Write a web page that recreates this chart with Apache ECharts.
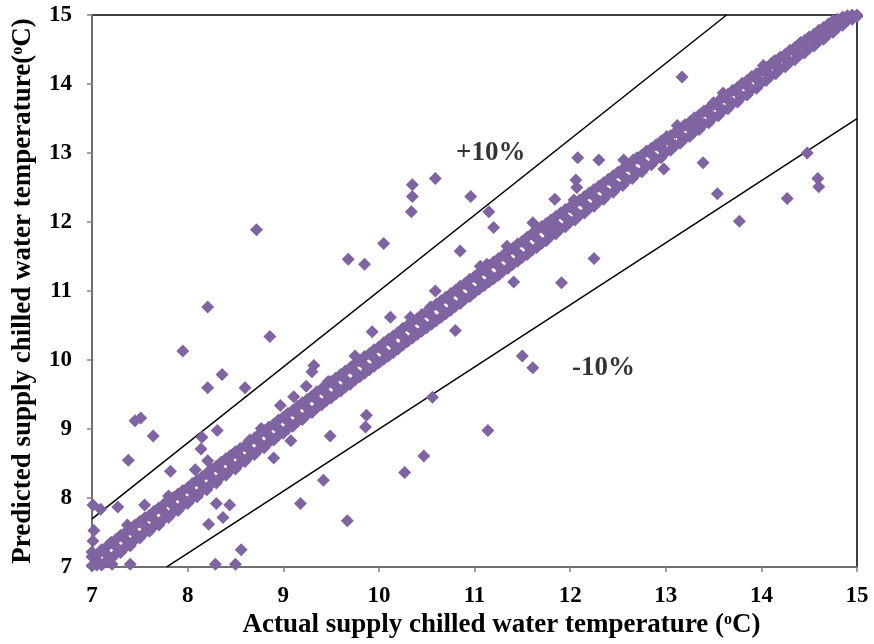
<!DOCTYPE html>
<html>
<head>
<meta charset="utf-8">
<script src="https://cdn.jsdelivr.net/npm/echarts@6/dist/echarts.min.js"></script>
<style>
html,body{margin:0;padding:0;background:#fff;}
#chart{width:874px;height:644px;}
</style>
</head>
<body>
<div id="chart"></div>
<script>
// Axis ticks
const xTicks = [7, 8, 9, 10, 11, 12, 13, 14, 15];
const yTicks = [7, 8, 9, 10, 11, 12, 13, 14, 15];

// Dense band of points close to the 1:1 line
const bandX = [7.0,7.1,7.2,7.3,7.4,7.5,7.6,7.7,7.8,7.9,
  8.0,8.1,8.2,8.3,8.4,8.5,8.6,8.7,8.8,8.9,
  9.0,9.1,9.2,9.3,9.4,9.5,9.6,9.7,9.8,9.9,
  10.0,10.1,10.2,10.3,10.4,10.5,10.6,10.7,10.8,10.9,
  11.0,11.1,11.2,11.3,11.4,11.5,11.6,11.7,11.8,11.9,
  12.0,12.1,12.2,12.3,12.4,12.5,12.6,12.7,12.8,12.9,
  13.0,13.1,13.2,13.3,13.4,13.5,13.6,13.7,13.8,13.9,
  14.0,14.1,14.2,14.3,14.4,14.5,14.6,14.7,14.8,14.9,15.0];
const bandLow = [7.02,7.03,7.12,7.21,7.31,7.42,7.52,7.61,7.72,7.82,
  7.92,8.02,8.12,8.22,8.33,8.42,8.53,8.63,8.73,8.84,
  8.94,9.04,9.14,9.24,9.35,9.45,9.55,9.65,9.76,9.86,
  9.96,10.06,10.16,10.27,10.37,10.47,10.57,10.67,10.78,10.88,
  10.98,11.08,11.18,11.29,11.39,11.49,11.59,11.69,11.80,11.90,
  12.00,12.10,12.20,12.30,12.41,12.51,12.61,12.71,12.81,12.91,
  13.01,13.11,13.21,13.31,13.42,13.52,13.62,13.72,13.82,13.92,
  14.02,14.12,14.22,14.32,14.42,14.52,14.62,14.72,14.82,14.92,14.98];
const bandHigh = [7.15,7.25,7.36,7.46,7.55,7.66,7.75,7.86,7.96,8.06,
  8.15,8.26,8.36,8.46,8.57,8.67,8.76,8.87,8.98,9.07,
  9.17,9.27,9.38,9.48,9.58,9.69,9.79,9.89,9.99,10.09,
  10.19,10.30,10.40,10.50,10.60,10.70,10.81,10.91,11.01,11.11,
  11.21,11.31,11.42,11.52,11.62,11.72,11.83,11.93,12.03,12.13,
  12.22,12.32,12.42,12.52,12.62,12.72,12.82,12.93,13.03,13.12,
  13.20,13.30,13.41,13.51,13.61,13.71,13.81,13.91,14.01,14.11,
  14.19,14.29,14.39,14.49,14.58,14.68,14.78,14.87,14.94,14.99,15.00];
// strands offset half a step in actual value
const bandMidX = [7.05,7.15,7.25,7.35,7.45,7.55,7.65,7.75,7.85,7.95,
  8.05,8.15,8.25,8.35,8.45,8.55,8.65,8.75,8.85,8.95,
  9.05,9.15,9.25,9.35,9.45,9.55,9.65,9.75,9.85,9.95,
  10.05,10.15,10.25,10.35,10.45,10.55,10.65,10.75,10.85,10.95,
  11.05,11.15,11.25,11.35,11.45,11.55,11.65,11.75,11.85,11.95,
  12.05,12.15,12.25,12.35,12.45,12.55,12.65,12.75,12.85,12.95,
  13.05,13.15,13.25,13.35,13.45,13.55,13.65,13.75,13.85,13.95,
  14.05,14.15,14.25,14.35,14.45,14.55,14.65,14.75,14.85,14.95];
const bandMid = [7.10,7.19,7.30,7.40,7.49,7.60,7.69,7.80,7.89,7.99,
  8.09,8.19,8.30,8.40,8.50,8.60,8.70,8.81,8.91,9.01,
  9.11,9.21,9.31,9.42,9.52,9.62,9.72,9.83,9.93,10.03,
  10.13,10.23,10.34,10.44,10.54,10.64,10.75,10.85,10.95,11.05,
  11.15,11.25,11.36,11.46,11.56,11.66,11.76,11.87,11.97,12.07,
  12.16,12.27,12.37,12.47,12.57,12.67,12.77,12.88,12.98,13.07,
  13.16,13.26,13.36,13.46,13.57,13.67,13.77,13.87,13.97,14.07,
  14.16,14.26,14.36,14.46,14.55,14.65,14.75,14.84,14.92,14.98];
const bandLow2 = [7.03,7.09,7.19,7.29,7.40,7.50,7.60,7.70,7.80,7.90,
  8.00,8.11,8.21,8.31,8.41,8.51,8.61,8.71,8.81,8.91,
  9.01,9.11,9.21,9.31,9.41,9.51,9.61,9.71,9.81,9.91,
  10.01,10.11,10.22,10.32,10.42,10.52,10.62,10.72,10.82,10.92,
  11.03,11.13,11.23,11.33,11.43,11.53,11.63,11.73,11.83,11.93,
  12.03,12.13,12.23,12.33,12.43,12.53,12.63,12.73,12.83,12.93,
  13.04,13.14,13.24,13.34,13.44,13.54,13.64,13.74,13.84,13.94,
  14.05,14.15,14.25,14.35,14.45,14.55,14.65,14.75,14.85,14.94];
const bandHigh2 = [7.17,7.29,7.40,7.50,7.61,7.71,7.81,7.91,8.01,8.11,
  8.21,8.31,8.42,8.52,8.62,8.72,8.83,8.93,9.03,9.13,
  9.23,9.33,9.43,9.54,9.64,9.74,9.84,9.95,10.05,10.15,
  10.25,10.35,10.46,10.56,10.66,10.76,10.86,10.96,11.07,11.17,
  11.27,11.37,11.47,11.57,11.68,11.78,11.88,11.98,12.08,12.18,
  12.27,12.37,12.47,12.57,12.67,12.77,12.87,12.97,13.07,13.17,
  13.25,13.35,13.45,13.55,13.65,13.75,13.85,13.95,14.05,14.15,
  14.24,14.34,14.43,14.53,14.63,14.72,14.82,14.90,14.97,15.00];

// Points sitting just above the band
const nearBand = [[7.02,7.53],[7.01,7.38],[7.00,7.22],[7.37,7.61],[7.55,7.90],[7.80,8.03],
  [8.08,8.41],[8.43,8.58],[8.65,8.84],[8.77,9.01],[8.97,9.34],[9.11,9.47],[9.24,9.62],
  [9.47,9.69],[9.32,9.92],[9.30,9.83],[9.75,10.06],[9.93,10.41],[10.12,10.62],[10.33,10.62],
  [10.54,10.77],[10.59,11.00],[11.06,11.36],[11.13,11.39],[11.34,11.65],[11.83,11.92],
  [12.04,12.32],[12.07,12.50],[12.06,12.61],[12.66,12.90],[12.95,13.09],[13.01,13.24],
  [13.12,13.40],[13.29,13.43],[13.50,13.73],[13.60,13.87],[13.87,13.95],[14.02,14.27],
  [14.13,14.33],[14.41,14.60],[14.75,14.92]];

// Over-predicted outliers
const aboveBand = [[7.01,7.90],[7.09,7.84],[7.27,7.87],[7.38,8.55],[7.45,9.12],[7.51,9.16],
  [7.64,8.90],[7.82,8.39],[7.95,10.13],[8.15,8.88],[8.14,8.71],[8.21,8.54],[8.21,10.77],
  [8.21,9.60],[8.31,8.98],[8.36,9.79],[8.60,9.60],[8.72,11.89],[8.86,10.34],[9.68,11.46],
  [9.85,11.39],[10.05,11.69],[10.34,12.15],[10.35,12.37],[10.35,12.54],[10.59,12.63],
  [10.96,12.37],[11.15,12.15],[10.85,11.58],[11.20,11.92],[11.61,11.99],[11.84,12.33],
  [12.08,12.93],[12.30,12.90],[12.56,12.90],[13.17,14.10]];

// Under-predicted outliers
const belowBand = [[7.21,7.04],[7.40,7.04],[8.29,7.04],[8.50,7.04],[8.56,7.25],[8.22,7.62],
  [8.30,7.92],[8.44,7.90],[8.37,7.72],[8.90,8.58],[9.08,8.83],[9.49,8.90],[9.42,8.26],
  [9.18,7.92],[9.67,7.67],[9.86,9.03],[9.87,9.20],[10.27,8.37],[10.47,8.61],[11.14,8.98],
  [10.56,9.46],[10.80,10.43],[11.50,10.06],[11.61,9.89],[11.41,11.13],[11.91,11.12],
  [12.25,11.47],[12.98,12.77],[13.39,12.86],[13.54,12.41],[13.77,12.01],[14.27,12.34],
  [14.48,13.00],[14.59,12.63],[14.60,12.51]];

// +/-10% boundary lines
const plusTenLine = [[7, 7.7], [13.636, 15]];
const minusTenLine = [[7.778, 7], [15, 13.5]];
const annotations = [{ value: [11.17, 13.0], text: '+10%' }, { value: [12.35, 9.88], text: '-10%' }];

const purple = '#8064a2';
const font = '"Liberation Serif", "Times New Roman", serif';

const points = [];
for (let i = 0; i < bandX.length; i++) {
  points.push([bandX[i], bandLow[i]]);
  points.push([bandX[i], bandHigh[i]]);
}
for (let i = 0; i < bandMidX.length; i++) {
  points.push([bandMidX[i], bandMid[i]]);
  points.push([bandMidX[i], bandLow2[i]]);
  points.push([bandMidX[i], bandHigh2[i]]);
}
const allPoints = points.concat(nearBand, aboveBand, belowBand);

const chart = echarts.init(document.getElementById('chart'), null, { renderer: 'canvas' });
const axisCommon = {
  type: 'value', min: 7, max: 15, interval: 1,
  axisLine: { show: true, lineStyle: { color: '#808080', width: 1.5 } },
  axisTick: { show: true, inside: false, length: 5, lineStyle: { color: '#808080', width: 1.5 } },
  splitLine: { show: false },
  nameLocation: 'middle'
};
const richName = {
  a: { fontFamily: font, fontWeight: 'bold', fontSize: 27, color: '#000' },
  s: { fontFamily: font, fontWeight: 'bold', fontSize: 16, color: '#000', verticalAlign: 'top', padding: [0, 0, 10, 0] }
};
chart.setOption({
  animation: false,
  backgroundColor: '#fff',
  grid: { left: 92, right: 17, top: 15, bottom: 75, show: true, borderColor: '#000', borderWidth: 1.5 },
  xAxis: Object.assign({}, axisCommon, {
    name: '{a|Actual supply chilled water temperature (}{s|o}{a|C)}',
    nameGap: 38,
    nameTextStyle: { rich: richName, padding: [0, 0, 0, 54] },
    axisLabel: { margin: 17, fontFamily: font, fontWeight: 'bold', fontSize: 23, color: '#000',
      formatter: v => (xTicks.indexOf(v) >= 0 ? String(v) : '') }
  }),
  yAxis: Object.assign({}, axisCommon, {
    name: '{a|Predicted supply chilled water temperature(}{s|o}{a|C)}',
    nameGap: 55,
    nameTextStyle: { rich: richName },
    axisLabel: { margin: 20, fontFamily: font, fontWeight: 'bold', fontSize: 23, color: '#000',
      formatter: v => (yTicks.indexOf(v) >= 0 ? String(v) : '') }
  }),
  series: [
    {
      type: 'line', data: plusTenLine, symbol: 'none', silent: true,
      lineStyle: { color: '#000', width: 1.5 }, z: 3
    },
    {
      type: 'line', data: minusTenLine, symbol: 'none', silent: true,
      lineStyle: { color: '#000', width: 1.5 }, z: 3
    },
    {
      type: 'scatter', data: allPoints, symbol: 'diamond', symbolSize: 13,
      itemStyle: { color: purple, opacity: 1 }, clip: false, z: 4
    },
    {
      type: 'scatter', symbolSize: 0, silent: true, z: 5,
      data: annotations.map(a => ({ value: a.value, name: a.text })),
      label: { show: true, position: 'inside', formatter: p => p.name,
        fontFamily: font, fontWeight: 'bold', fontSize: 27, color: '#000' }
    }
  ]
});
</script>
</body>
</html>
